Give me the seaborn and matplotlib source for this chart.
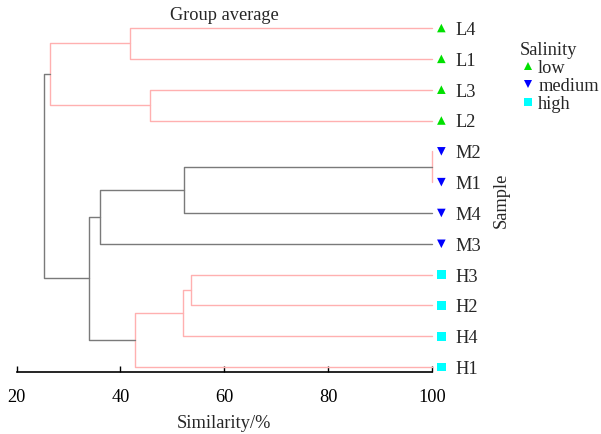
import numpy as np
import pandas as pd
import seaborn as sns
import matplotlib.pyplot as plt

# ---- data ----
leaves = ["L4", "L1", "L3", "L2", "M2", "M1", "M4", "M3", "H3", "H2", "H4", "H1"]
salinity = ["low"] * 4 + ["medium"] * 4 + ["high"] * 4
node_names = ["A", "B", "Lc", "C", "D", "Mc", "F", "G", "Hc", "MH", "root"]
merge_a = ["L4", "L3", "A", "M2", "C", "D", "H3", "F", "G", "Mc", "Lc"]
merge_b = ["L1", "L2", "B", "M1", "M4", "M3", "H2", "H4", "H1", "Hc", "MH"]
similarity = [41.8, 45.7, 26.5, 100.0, 52.3, 36.1, 53.6, 52.0, 42.9, 33.9, 25.3]
branch_group = ["pink", "pink", "pink", "pink", "gray", "gray",
                "pink", "pink", "pink", "gray", "gray"]
xticks = [20, 40, 60, 80, 100]

# ---- build dendrogram segments ----
pos = {name: float(i) for i, name in enumerate(leaves)}
hgt = {name: 100.0 for name in leaves}
rows = []
for k, (n, a, b, s, g) in enumerate(zip(node_names, merge_a, merge_b, similarity, branch_group)):
    pts = [(hgt[a], pos[a]), (s, pos[a]), (s, pos[b]), (hgt[b], pos[b])]
    for j, (x, y) in enumerate(pts):
        rows.append({"seg": k, "order": j, "x": x, "y": y, "grp": g})
    pos[n] = (pos[a] + pos[b]) / 2
    hgt[n] = s
seg_df = pd.DataFrame(rows)

leaf_df = pd.DataFrame({"Sample": leaves, "Salinity": salinity,
                        "y": np.arange(len(leaves), dtype=float)})

# ---- style ----
sns.set_style("white")
plt.rcParams["font.family"] = ["Liberation Serif", "DejaVu Serif"]
FS = 13.2
plt.rcParams["font.size"] = FS

W, H = 601, 434
fig = plt.figure(figsize=(W / 100, H / 100), dpi=100)
ax_left, ax_right, ax_top, ax_bot = 16.5, 432.0, 18.8, 372.0
ax = fig.add_axes([ax_left / W, 1 - ax_bot / H, (ax_right - ax_left) / W, (ax_bot - ax_top) / H])

sns.lineplot(data=seg_df, x="x", y="y", units="seg", estimator=None, sort=False,
             hue="grp", palette={"pink": "#ffb0b0", "gray": "#7a7a7a"},
             linewidth=1.0, legend=False, ax=ax)
for ln in ax.get_lines():
    ln.set_clip_on(False)

leaf_df["mx"] = 101.8
sns.scatterplot(data=leaf_df, x="mx", y="y", hue="Salinity", style="Salinity",
                hue_order=["low", "medium", "high"],
                palette={"low": "#00e000", "medium": "#0000ff", "high": "#00ffff"},
                markers={"low": "^", "medium": "v", "high": "s"},
                s=38, linewidth=0, clip_on=False, ax=ax)

for name, yv in zip(leaves, leaf_df["y"]):
    ax.text(104.6, yv + 0.08, name, ha="left", va="center", fontsize=FS, clip_on=False)

ax.set_xlim(20, 100)
ax.set_ylim(11.16, -0.3)
ax.set_xticks(xticks)
ax.set_xticklabels([str(t) for t in xticks])
ax.set_yticks([])
ax.set_xlabel("")
ax.set_ylabel("")
for sp in ["top", "left", "right"]:
    ax.spines[sp].set_visible(False)
ax.spines["bottom"].set_color("black")
ax.spines["bottom"].set_linewidth(1.2)
ax.tick_params(axis="x", direction="in", length=4.5, width=1.0, pad=12,
               bottom=True, labelsize=FS, colors="black")

sns.move_legend(ax, "upper left", bbox_to_anchor=(507 / W, 1 - 29 / H),
                bbox_transform=fig.transFigure, frameon=False, title="Salinity",
                fontsize=FS, title_fontsize=FS, handletextpad=0.1,
                labelspacing=0.05, borderpad=0.2, handlelength=0.9,
                markerscale=1.0)
ax.get_legend()._legend_box.align = "left"

fig.text(224 / W, 1 - 16 / H, "Group average", ha="center", va="center", fontsize=FS)
fig.text(224 / W, 1 - 423 / H, "Similarity/%", ha="center", va="center", fontsize=FS)
fig.text(501 / W, 1 - 200 / H, "Sample", ha="center", va="center", rotation=90, fontsize=FS)

fig.savefig("out.png", dpi=100)
